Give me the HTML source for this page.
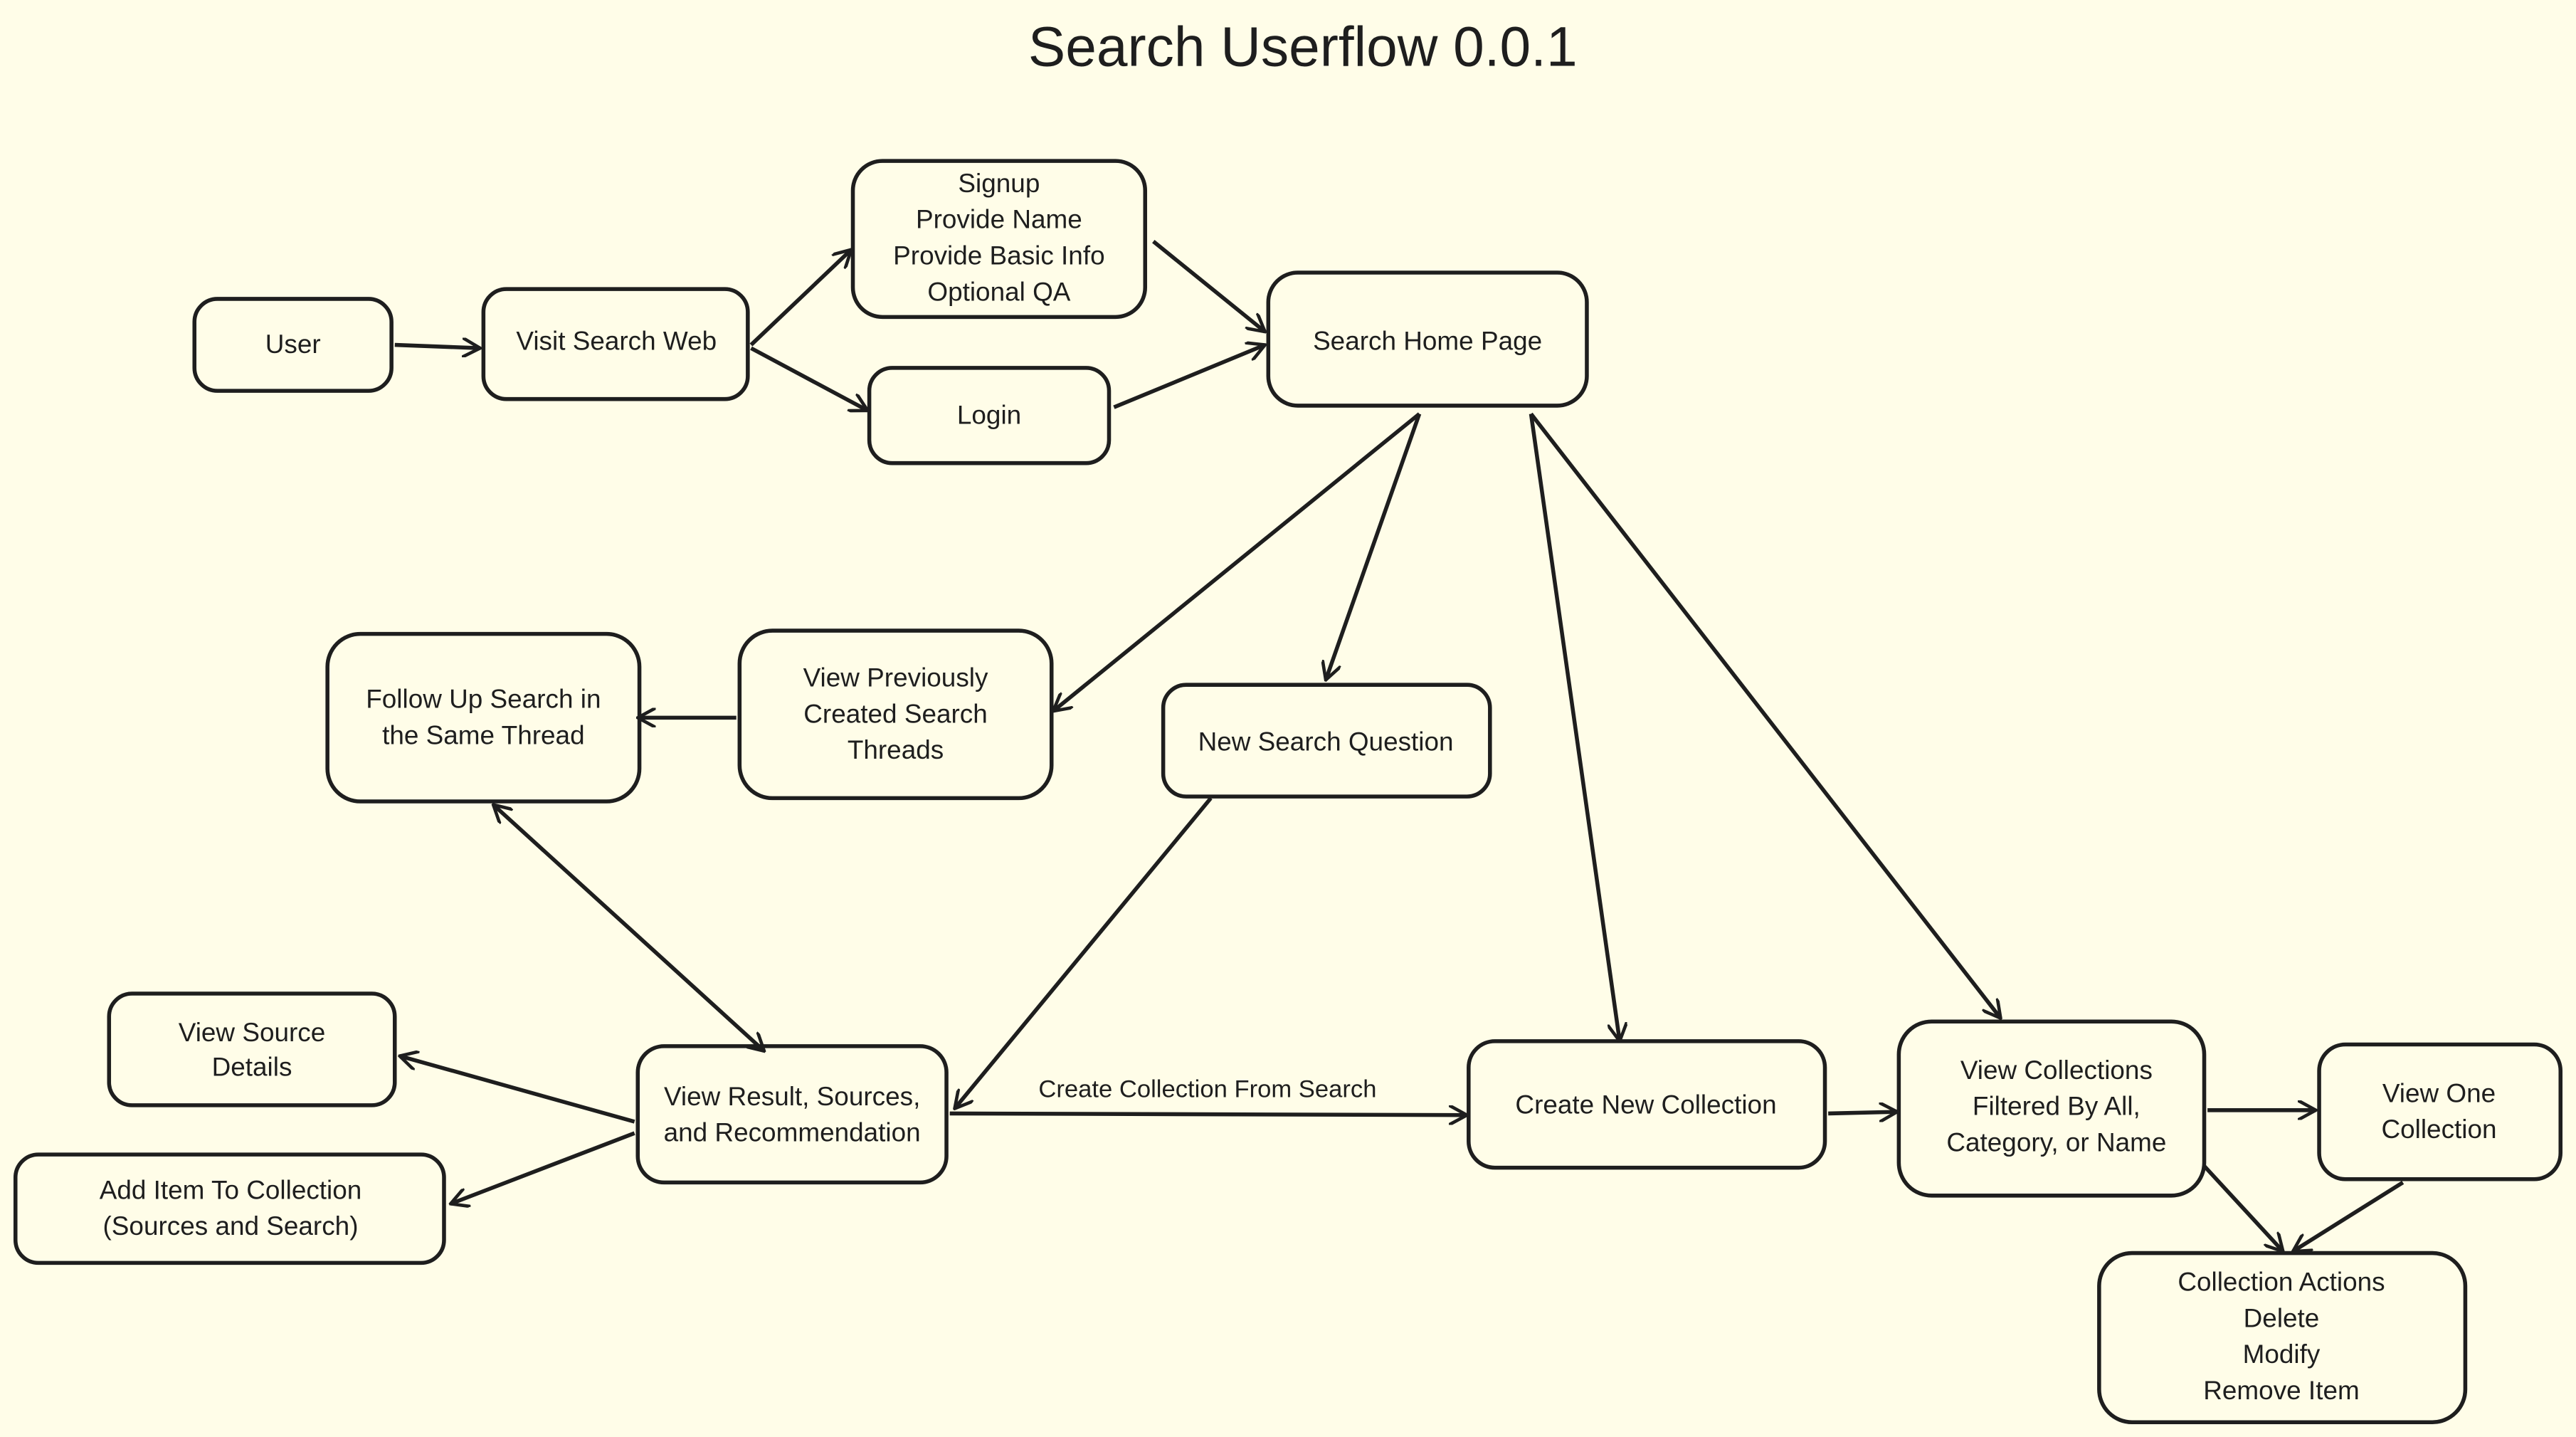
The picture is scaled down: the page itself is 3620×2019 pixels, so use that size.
<!DOCTYPE html>
<html><head><meta charset="utf-8"><style>
html,body{margin:0;padding:0;background:#fffde8;}
svg{display:block}
text{font-family:"Liberation Sans",sans-serif;fill:#1e1e1e;}
</style></head><body>
<svg width="3620" height="2019" viewBox="0 0 1568 875" xmlns="http://www.w3.org/2000/svg">
<defs>
<marker id="a" viewBox="0 0 12 12" refX="11" refY="6" markerWidth="12" markerHeight="12" markerUnits="userSpaceOnUse" orient="auto-start-reverse">
<path d="M0,0 L11,6 L0,12" fill="none" stroke="#1e1e1e" stroke-width="2"/>
</marker>
</defs>
<rect width="1568" height="875" fill="#fffde8"/>
<text x="793" y="40" text-anchor="middle" font-size="34">Search Userflow 0.0.1</text>
<g fill="none" stroke="#1e1e1e" stroke-width="2.4">
<rect x="118" y="182" width="120" height="56" rx="14"/>
<rect x="294" y="176" width="161" height="67" rx="14"/>
<rect x="519" y="98" width="178" height="95" rx="18"/>
<rect x="529" y="224" width="146" height="58" rx="14"/>
<rect x="772" y="166" width="194" height="81" rx="18"/>
<rect x="450" y="384" width="190" height="102" rx="20"/>
<rect x="199" y="386" width="190" height="102" rx="20"/>
<rect x="708" y="417" width="199" height="68" rx="14"/>
<rect x="66" y="605" width="174" height="68" rx="14"/>
<rect x="388" y="637" width="188" height="83" rx="16"/>
<rect x="9" y="703" width="261" height="66" rx="14"/>
<rect x="894" y="634" width="217" height="77" rx="16"/>
<rect x="1156" y="622" width="186" height="106" rx="20"/>
<rect x="1412" y="636" width="147" height="82" rx="16"/>
<rect x="1278" y="763" width="223" height="103" rx="20"/>
</g>
<g stroke="#1e1e1e" stroke-width="2.4" fill="none" marker-end="url(#a)">
<line x1="240" y1="210" x2="292" y2="212"/>
<line x1="457" y1="210" x2="518" y2="152"/>
<line x1="457" y1="212" x2="528" y2="250"/>
<line x1="702" y1="147" x2="770" y2="202"/>
<line x1="678" y1="248" x2="770" y2="210"/>
<line x1="864" y1="252" x2="641" y2="433"/>
<line x1="864" y1="252" x2="807" y2="414"/>
<line x1="932" y1="252" x2="986" y2="634"/>
<line x1="932" y1="252" x2="1218" y2="620"/>
<line x1="448" y1="437" x2="388" y2="437"/>
<line x1="300" y1="490" x2="465" y2="640" marker-start="url(#a)"/>
<line x1="737" y1="486" x2="581" y2="675"/>
<line x1="386" y1="683" x2="243" y2="643"/>
<line x1="386" y1="690" x2="274" y2="733"/>
<line x1="578" y1="678" x2="893" y2="679"/>
<line x1="1113" y1="678" x2="1155" y2="677"/>
<line x1="1344" y1="676" x2="1410" y2="676"/>
<line x1="1342" y1="710" x2="1390" y2="762"/>
<line x1="1463" y1="720" x2="1396" y2="762"/>
</g>
<g font-size="16" text-anchor="middle">
<text x="178" y="215">User</text>
<text x="375" y="213">Visit Search Web</text>
<text x="608" y="117">Signup</text>
<text x="608" y="139">Provide Name</text>
<text x="608" y="161">Provide Basic Info</text>
<text x="608" y="183">Optional QA</text>
<text x="602" y="258">Login</text>
<text x="869" y="213">Search Home Page</text>
<text x="545" y="418">View Previously</text>
<text x="545" y="440">Created Search</text>
<text x="545" y="462">Threads</text>
<text x="294" y="431">Follow Up Search in</text>
<text x="294" y="453">the Same Thread</text>
<text x="807" y="457">New Search Question</text>
<text x="153" y="634">View Source</text>
<text x="153" y="655">Details</text>
<text x="482" y="673">View Result, Sources,</text>
<text x="482" y="695">and Recommendation</text>
<text x="140" y="730">Add Item To Collection</text>
<text x="140" y="752">(Sources and Search)</text>
<text x="1002" y="678">Create New Collection</text>
<text x="1252" y="657">View Collections</text>
<text x="1252" y="679">Filtered By All,</text>
<text x="1252" y="701">Category, or Name</text>
<text x="1485" y="671">View One</text>
<text x="1485" y="693">Collection</text>
<text x="1389" y="786">Collection Actions</text>
<text x="1389" y="808">Delete</text>
<text x="1389" y="830">Modify</text>
<text x="1389" y="852">Remove Item</text>
<text x="735" y="668" font-size="15">Create Collection From Search</text>
</g>
</svg>
</body></html>
